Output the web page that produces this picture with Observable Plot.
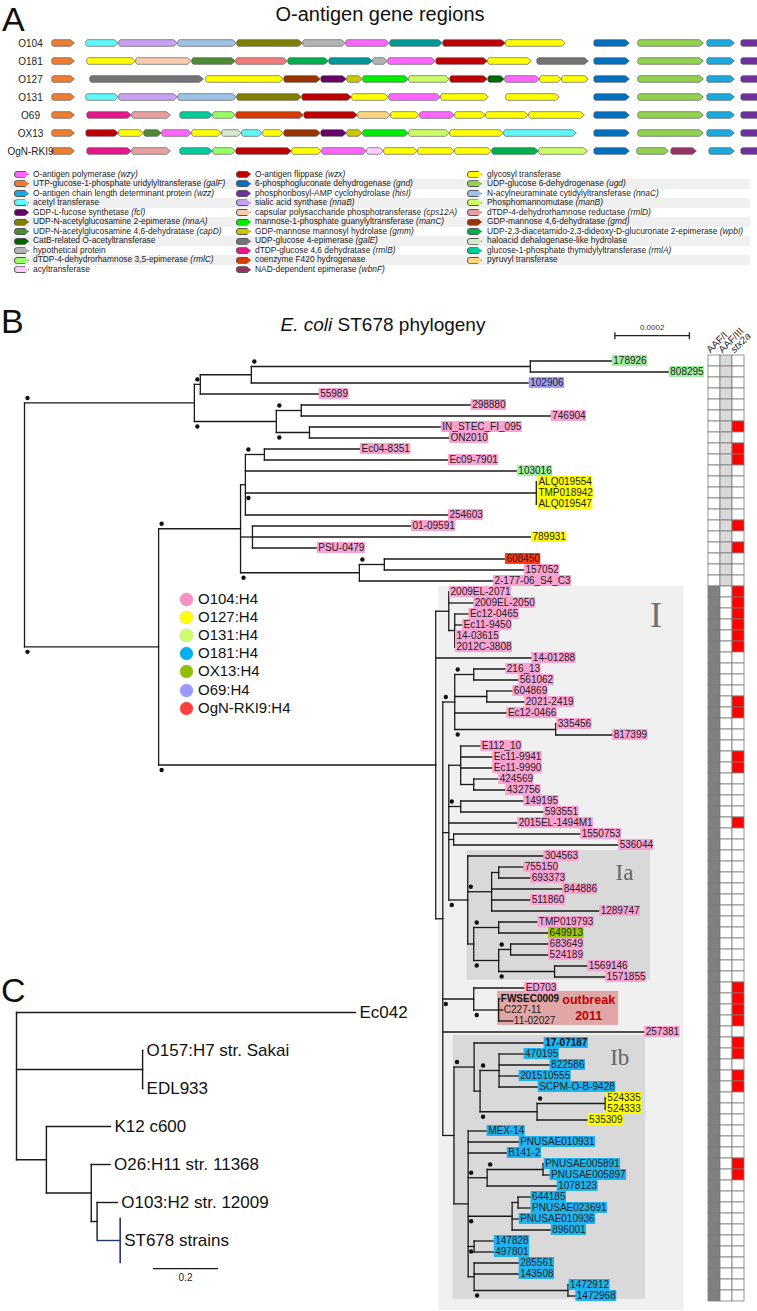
<!DOCTYPE html>
<html><head><meta charset="utf-8">
<script src="https://cdn.jsdelivr.net/npm/d3@7"></script>
<script src="https://cdn.jsdelivr.net/npm/@observablehq/plot@0.6"></script>
<style>
body{margin:0;background:#fff}
#page{position:relative;width:757px;height:1311px;overflow:hidden;background:#fff;font-family:"Liberation Sans",Arial,sans-serif;color:#111}
</style></head><body><div id="page"></div>
<script>
// ---------------- DATA ----------------
// Panel A: O-antigen gene regions, [gene, relative length] (null = gap)
const geneRowNames = ["O104","O181","O127","O131","O69","OX13","OgN-RKI9"];
const rowO104 = [["galF",23],[null,11],["acetyl",33],["nnaB",59],["nnaC",59],["nnaA",66],["hyp",43],["wzy",44],["teal",53],["wzx",63],["gt",60],[null,28],["gnd",36],[null,8],["ugd",66],[null,3],["wzz",28],[null,6],["hisI",22]];
const rowO181 = [["galF",23],[null,12],["gt",49],["cps12A",56],["capD",44],["salmon",52],["wpbI",41],["teal",44],["hyp",15],["wzy",48],["wzx",52],["gt",44],[null,5],["galE",52],[null,5],["gnd",36],[null,8],["ugd",66],[null,3],["wzz",28],[null,6],["hisI",22]];
const rowO127 = [["galF",23],[null,15],["galE",114],[null,2],["gt",78],["gmd",37],["fcl",26],["gmm",16],["manC",46],["manB",41],["wzx",38],["catB",17],["wzy",35],["gt",22],["gt",27],[null,5],["gnd",36],[null,8],["ugd",66],[null,3],["wzz",28],[null,6],["hisI",22]];
const rowO131 = [["galF",23],[null,11],["acetyl",33],["nnaB",59],["nnaC",59],["nnaA",65],["wzx",50],["gt",37],["wzy",52],["gt",48],[null,17],["gt",54],[null,34],["gnd",36],[null,8],["ugd",66],[null,3],["wzz",28],[null,6],["hisI",22]];
const rowO69 = [["galF",23],[null,12],["rmlB",45],["rmlD",39],[null,9],["rmlA",33],["rmlC",23],["f420",68],["wzx",54],["pyruvyl",33],["gt",29],["wzy",35],["gt",31],["gt",43],["gt",56],[null,9],["gnd",36],[null,8],["ugd",66],[null,3],["wzz",28],[null,6],["hisI",22]];
const rowOX13 = [["galF",23],[null,11],["wzx",33],["gt",25],["capD",18],["wzy",30],["gt",30],["had",20],["acetyl",21],["gt",21],["gmd",37],["fcl",26],["gmm",16],["manC",46],["manB",41],["gt",54],["acetyl",73],[null,17],["gnd",36],[null,8],["ugd",66],[null,3],["wzz",28],[null,6],["hisI",22]];
const rowOgN = [["galF",23],[null,12],["rmlB",45],["rmlD",39],[null,9],["rmlA",33],["rmlC",23],["wzx",56],["gt",30],["wzy",45],["acyl",17],["gt",34],["gt",37],["gt",37],["wpbI",47],["manB",49],[null,6],["gnd",36],[null,7],["ugd",32],[null,2],["wbnF",26],[null,12],["wzz",26],[null,6],["hisI",22]];
const geneRows = [rowO104,rowO181,rowO127,rowO131,rowO69,rowOX13,rowOgN];

// Panel A legend: [gene, description, italic gene name]
const legendCol1 = [["wzy","O-antigen polymerase","wzy"],["galF","UTP-glucose-1-phosphate uridylyltransferase","galF"],["wzz","O-antigen chain length determinant protein","wzz"],["acetyl","acetyl transferase",null],["fcl","GDP-L-fucose synthetase","fcl"],["nnaA","UDP-N-acetylglucosamine 2-epimerase","nnaA"],["capD","UDP-N-acetylglucosamine 4,6-dehydratase","capD"],["catB","CatB-related O-acetyltransferase",null],["hyp","hypothetical protein",null],["rmlC","dTDP-4-dehydrorhamnose 3,5-epimerase","rmlC"],["acyl","acyltransferase",null]];
const legendCol2 = [["wzx","O-antigen flippase","wzx"],["gnd","6-phosphogluconate dehydrogenase","gnd"],["hisI","phosphoribosyl-AMP cyclohydrolase","hisI"],["nnaB","sialic acid synthase","nnaB"],["cps12A","capsular polysaccharide phosphotransferase","cps12A"],["manC","mannose-1-phosphate guanylyltransferase","manC"],["gmm","GDP-mannose mannosyl hydrolase","gmm"],["galE","UDP-glucose 4-epimerase","galE"],["rmlB","dTDP-glucose 4,6 dehydratase","rmlB"],["f420","coenzyme F420 hydrogenase",null],["wbnF","NAD-dependent epimerase","wbnF"]];
const legendCol3 = [["gt","glycosyl transferase",null],["ugd","UDP-glucose 6-dehydrogenase","ugd"],["nnaC","N-acylneuraminate cytidylyltransferase","nnaC"],["manB","Phosphomannomutase","manB"],["rmlD","dTDP-4-dehydrorhamnose reductase","rmlD"],["gmd","GDP-mannose 4,6-dehydratase","gmd"],["wpbI","UDP-2,3-diacetamido-2,3-dideoxy-D-glucuronate 2-epimerase","wpbI"],["had","haloacid dehalogenase-like hydrolase",null],["rmlA","glucose-1-phosphate thymidylyltransferase","rmlA"],["pyruvyl","pyruvyl transferase",null]];

// Panel B: ST678 phylogeny (branch lengths in 1e-5 substitutions/site; "*" = supported node)
const treeNewick = [
 "(",
 "((((178926:22.0,808295:37.3)*:74.9,102906:74.6):13.7,55989:31.9)*:1.6,((298880:45.6,746904:67.1)*:6.7,(IN_STEC_FI_095:35.4,ON2010:37.6)*:8.9)*:22.0)*:45.6",
 ",(",
 "(((Ec04-8351:25.8,Ec09-7901:49.4)*:5.1,103016:73.0,(ALQ019554:0.3,TMP018942:0.3,ALQ019547:0.3)*:78.1,254603:54.5):1.3,(01-09591:42.7,789931:74.9,PSU-0479:17.4):3.2,((608450:32.5,157052:37.6)*:6.7,2-177-06_S4_C3:36.0)*:31.9)*:22.0",
 ",(",
 "(2009EL-2071:0.2,2009EL-2050:6.7,(Ec12-0465:3.8,Ec11-9450:2.1,14-03615:0.2,2012C-3808:0.2):1.6):3.5",
 ",14-01288:25.8,(",
 "((216_13:8.6,561062:12.1)*:5.1,(604869:7.0,2021-2419:10.2):8.6,Ec12-0466:14.0,(335456:0.3,817399:15.3)*:27.1)*:3.2",
 ",((E112_10:5.4,Ec11-9941:8.6,Ec11-9990:8.6,(424569:6.7,432756:8.6):3.5):3.2,(149195:16.9,593551:22.3)*:3.2,2015EL-1494M1:18.5,(1550753:34.1,536044:44.3):1.3,",
 "(304563:20.4,((755150:6.7,693373:8.6):1.9,844886:19.1,511860:10.5,1289747:29.0)*:6.4,((TMP019793:10.5,649913:13.4)*:6.7,((683649:10.2,524189:10.2)*:3.2,(1569146:8.9,1571855:13.7)*:15.0)*:6.7):1.6)*:5.1",
 "):1.6",
 ",(ED703:13.7,(FWSEC0009:0.3,C227-11:1.1,11-02027:3.8)*:6.7)*:8.3",
 ",257381:54.2",
 ",((17-07187:18.8,((470195:6.7,822586:13.7,201510555:5.4,SCPM-O-B-9428:10.5)*:5.1,((524335:0.3,524333:0.3)*:18.3,535309:13.7)*:15.3):1.6)*:5.4,(MEX-14:5.1,PNUSAE010931:13.7,B141-2:10.5,((PNUSAE005891:0.3,PNUSAE005897:1.9)*:15.0,1078123:18.8)*:5.1,((644185:3.5,PNUSAE023691:3.5):1.6,PNUSAE010936:1.9,896001:10.5)*:11.8,(147828:5.4,497801:5.4)*:1.6,(285561:12.1,143508:12.1,(1472912:0.3,1472968:2.1)*:25.2):1.6):3.8):3.0",
 "):1.9",
 ")*:74.4",
 ")*:36.0",
 ");"
].join("");
const treeScaleBar = 20; // 0.0002 in 1e-5 units
const treeScaleLabel = "0.0002";

// serotypes (all other strains are O104:H4)
const seroO131 = ["178926","808295","103016"];
const seroO69 = ["102906"];
const seroO127 = ["ALQ019554","TMP018942","ALQ019547","789931","524335","524333","535309"];
const seroOgN = ["608450"];
const seroOX13 = ["649913"];
const seroO181 = ["17-07187","470195","822586","201510555","SCPM-O-B-9428","MEX-14","PNUSAE010931","B141-2","PNUSAE005891","PNUSAE005897","1078123","644185","PNUSAE023691","PNUSAE010936","896001","147828","497801","285561","143508","1472912","1472968"];
const boldLabels = ["FWSEC0009","17-07187"];
const serotypeLegend = ["O104:H4","O127:H4","O131:H4","O181:H4","OX13:H4","O69:H4","OgN-RKI9:H4"];

// clades: [label, first leaf, last leaf]
const clades = [["I","2009EL-2071","1472968"],["Ia","304563","1571855"],["Ib","17-07187","1472968"]];
const outbreak = ["outbreak","2011","FWSEC0009","11-02027"];

// heatmap columns (rows in tree leaf order, 1 = present)
const heatCols = ["AAF/I","AAF/III","stx2a"];
const aafI   = "0000000000 0000000000 0111111111 1111111111 1111111111 1111111111 1111111111 1111111111 111111";
const aafIII = "1111111111 1111111111 1000000000 0000000000 0000000000 0000000000 0000000000 0000000000 000000";
const stx2a  = "0000001011 0000010100 0111111000 0110001100 0010000000 0000000111 1011011000 0001100000 000000";

// Panel C: reference tree (branch lengths in substitutions/site)
const refTree = {name:"", len:0, children:[
  {name:"Ec042", len:1.043, children:[]},
  {name:"", len:0.388, children:[{name:"O157:H7 str. Sakai", len:0, children:[]},{name:"EDL933", len:0, children:[]}]},
  {name:"", len:0.092, children:[
    {name:"K12 c600", len:0.197, children:[]},
    {name:"", len:0.138, children:[
      {name:"O26:H11 str. 11368", len:0.058, children:[]},
      {name:"", len:0.018, children:[{name:"O103:H2 str. 12009", len:0.062, children:[]},{name:"ST678 strains", len:0.071, children:[]}]}
    ]}
  ]}
]};
const refScaleBar = 0.2;

// ---------------- STYLES ----------------
const FONT = "'Liberation Sans', Arial, sans-serif";
const geneColors = {
 wzy:"#ff66ff", galF:"#ed7d31", wzz:"#1ba9de", acetyl:"#5ff7f7", fcl:"#660066", nnaA:"#808000", capD:"#4f8a34", catB:"#006600", hyp:"#b3b3b3", rmlC:"#99ff66", acyl:"#ffccff",
 wzx:"#c00000", gnd:"#0070c0", hisI:"#7030a0", nnaB:"#c9a0f2", cps12A:"#f8cbad", manC:"#00ee00", gmm:"#c8c800", galE:"#747474", rmlB:"#e6168c", f420:"#d83b01", wbnF:"#993366",
 gt:"#ffff00", ugd:"#92d050", nnaC:"#9dc3e6", manB:"#ccff66", rmlD:"#e6a0a0", gmd:"#993300", wpbI:"#00b050", had:"#d5e8cc", rmlA:"#00cc99", pyruvyl:"#ffd580",
 teal:"#009999", salmon:"#f27c7c"
};
const seroBg = {O104:"#f9a3d2", O181:"#1eb4f0", O127:"#ffff00", O131:"#9ff19f", O69:"#9f9ff5", OgN:"#ff3a10", OX13:"#9acd00"};
const seroDot = ["#f792c9","#ffff00","#ccff66","#00b0f0","#92c000","#9999ff","#ff4040"];

const page = document.getElementById("page");
function addDiv(html, css){const d=document.createElement("div");d.innerHTML=html;d.style.cssText="position:absolute;"+css;page.appendChild(d);return d;}
function place(el,left,top,w,h){const d=document.createElement("div");d.style.cssText=`position:absolute;left:${left}px;top:${top}px;width:${w}px;height:${h}px`;d.appendChild(el);page.appendChild(d);}
const plotStyle = {background:"transparent", maxWidth:"none", fontFamily:FONT};
const ctx = document.createElement("canvas").getContext("2d");
function textW(t,font){ctx.font=font;return ctx.measureText(t).width;}

// ---------------- PANEL A ----------------
addDiv("A","left:2px;top:1px;font-size:34px;line-height:36px");
addDiv("O-antigen gene regions","left:0;width:760px;text-align:center;top:4px;font-size:20px;line-height:20px");
{
  const pts=[]; let id=0; const h=0.185, e=0.07;
  geneRows.forEach((row,r)=>{
    let pos=0;
    for(const [g,len] of row){
      if(g){
        id++; const x0=pos, x1=pos+len-0.6, tip=Math.min(4,len*0.35), col=geneColors[g];
        pts.push({id,x:x0,y1:r-h+e,y2:r+h-e,c:col},{id,x:x0+1.3,y1:r-h,y2:r+h,c:col},{id,x:x1-tip,y1:r-h,y2:r+h,c:col},{id,x:x1,y1:r,y2:r,c:col});
      }
      pos+=len;
    }
  });
  const p = Plot.plot({width:757,height:165,marginLeft:52,marginTop:0,marginBottom:0,marginRight:0,
    x:{domain:[0,705],range:[52,757],axis:null}, y:{domain:[0,6],range:[43,151],axis:null},
    color:{type:"identity"}, style:plotStyle,
    marks:[
      Plot.areaY(pts,{x:"x",y1:"y1",y2:"y2",z:"id",fill:"c",stroke:"#4d4d4d",strokeWidth:0.6}),
      Plot.text(geneRowNames,{y:(d,i)=>i,text:d=>d,frameAnchor:"left",dx:-22,textAnchor:"middle",fontSize:10,fill:"#222"})
    ]});
  place(p,0,0,757,165);
}
{
  const cols=[legendCol1,legendCol2,legendCol3], swX=[14,236,467], txX=[33,255,487];
  const top0=169.5, rh=9.55;
  for(let i=0;i<11;i++) if(i%2===1) addDiv("",`left:10px;top:${top0+i*rh}px;width:740px;height:${rh}px;background:#f0f0f0`);
  cols.forEach((col,c)=>col.forEach(([g,desc,it],i)=>{
    const t=top0+i*rh;
    addDiv("",`left:${swX[c]}px;top:${t+1.3}px;width:15px;height:7px;background:${geneColors[g]};border:0.7px solid #555;box-sizing:border-box;border-radius:3px 0 0 3px;clip-path:polygon(0 0,72% 0,100% 50%,72% 100%,0 100%)`);
    addDiv(desc+(it?` <i>(${it})</i>`:""),`left:${txX[c]}px;top:${t}px;font-size:8.4px;line-height:${rh}px;white-space:nowrap;color:#222`);
  }));
}

// ---------------- PANEL B ----------------
addDiv("B","left:1px;top:303px;font-size:34px;line-height:36px");
addDiv("<i>E. coli</i> ST678 phylogeny","left:0;width:766px;text-align:center;top:315px;font-size:19px;line-height:19px");

function parseNewick(s){
  let i=0;
  function node(){
    const n={children:[]};
    if(s[i]==="("){i++;n.children.push(node());while(s[i]===","){i++;n.children.push(node());}i++;}
    let name="";while(i<s.length&&!":,();".includes(s[i]))name+=s[i++];
    n.name=name.trim();
    if(s[i]===":"){i++;let num="";while(i<s.length&&!",();".includes(s[i]))num+=s[i++];n.len=+num;}else n.len=0;
    return n;
  }
  return node();
}
function layoutTree(root){
  const leaves=[],hSegs=[],vSegs=[],nodes=[];let k=0;
  (function walk(n,parent){
    n.parent=parent; n.x=(parent?parent.x:0)+(n.len||0); nodes.push(n);
    if(!n.children.length){n.y=k++;leaves.push(n);}
    else{n.children.forEach(c=>walk(c,n));n.y=(n.children[0].y+n.children[n.children.length-1].y)/2;
      vSegs.push({x:n.x,y1:n.children[0].y,y2:n.children[n.children.length-1].y});}
  })(root,null);
  for(const n of nodes) if(n.parent) hSegs.push({x1:n.parent.x,x2:n.x,y:n.y,name:n.name});
  return {leaves,hSegs,vSegs,nodes};
}
const tree = layoutTree(parseNewick(treeNewick));
const leafNames = tree.leaves.map(d=>d.name);
const leafByName = new Map(tree.leaves.map(d=>[d.name,d]));
function lca(a,b){const anc=new Set();for(let n=leafByName.get(a);n;n=n.parent)anc.add(n);for(let n=leafByName.get(b);n;n=n.parent)if(anc.has(n))return n;}
function sero(name){
  if(seroO131.includes(name))return "O131"; if(seroO69.includes(name))return "O69"; if(seroO127.includes(name))return "O127";
  if(seroOgN.includes(name))return "OgN"; if(seroOX13.includes(name))return "OX13"; if(seroO181.includes(name))return "O181"; return "O104";
}
{
  const K=3.725, X0=24, TOP=280, Y0=360.5-TOP, RH=11;
  const font=b=>`${b?"bold ":""}10px ${FONT}`;
  const labels = tree.leaves.map(l=>{const b=boldLabels.includes(l.name);const w=textW(l.name,font(b));
    return {name:l.name,x:l.x,y:l.y,x2:l.x+(w+2)/K,bold:b,bg:seroBg[sero(l.name)]};});
  const labByName = new Map(labels.map(d=>[d.name,d]));
  const boxes = clades.map(([lab,f,l])=>{
    const a=labByName.get(f).y, b=labByName.get(l).y, node=lca(f,l);
    const members=labels.filter(d=>d.y>=a&&d.y<=b);
    return {lab, x1:node.x+(lab==="I"?0.8:-0.2), x2:d3.max(members,d=>d.x2)+4/K, y1:a-0.5-(lab==="Ib"?0.2:0), y2:b+0.5+(lab==="I"?0.8:-0.2)};
  });
  const ob = (()=>{const a=labByName.get(outbreak[2]).y,b=labByName.get(outbreak[3]).y,node=lca(outbreak[2],outbreak[3]);
    const x1=node.x-1/K; return {x1,x2:x1+121/K,y1:a-0.7,y2:b+0.4};})();
  const bgLabels = labels.filter(d=>!(d.y>=ob.y1&&d.y<=ob.y2));
  const dots = tree.nodes.filter(n=>n.name==="*"&&n.parent).map(n=>({x:n.parent.x,y:n.y,up:n.y<n.parent.y}));
  const sbX=158.5, sbY=-2.3;
  const p = Plot.plot({width:757,height:1031,margin:0,
    x:{domain:[0,180],range:[X0,X0+180*K],axis:null}, y:{domain:[0,85],range:[Y0,Y0+85*RH],axis:null},
    color:{type:"identity"}, style:plotStyle,
    marks:[
      Plot.rect(boxes.filter(d=>d.lab==="I"),{x1:"x1",x2:"x2",y1:"y1",y2:"y2",fill:"#f0f0f0"}),
      Plot.rect(boxes.filter(d=>d.lab!=="I"),{x1:"x1",x2:"x2",y1:"y1",y2:"y2",fill:"#d9d9d9"}),
      Plot.rect([ob],{x1:"x1",x2:"x2",y1:"y1",y2:"y2",fill:"#e1a7a7"}),
      Plot.link(tree.hSegs,{x1:"x1",x2:"x2",y1:"y",y2:"y",stroke:"#1a1a1a",strokeWidth:1.3,strokeLinecap:"square"}),
      Plot.link(tree.vSegs,{x1:"x",x2:"x",y1:"y1",y2:"y2",stroke:"#1a1a1a",strokeWidth:1.3,strokeLinecap:"square"}),
      Plot.rect(bgLabels,{x1:"x",x2:"x2",y1:d=>d.y-0.5,y2:d=>d.y+0.5,fill:"bg"}),
      Plot.text(labels.filter(d=>!d.bold),{x:"x",y:"y",text:"name",textAnchor:"start",dx:1,fontSize:10,fill:"#222"}),
      Plot.text(labels.filter(d=>d.bold),{x:"x",y:"y",text:"name",textAnchor:"start",dx:1,fontSize:10,fontWeight:"bold",fill:"#111"}),
      Plot.dot(dots.filter(d=>d.up),{x:"x",y:"y",dx:3,dy:-5,r:2.2,fill:"#111"}),
      Plot.dot(dots.filter(d=>!d.up),{x:"x",y:"y",dx:3,dy:5,r:2.2,fill:"#111"}),
      Plot.text(boxes.filter(d=>d.lab==="I"),{x:"x2",y:"y1",text:"lab",dx:-28,dy:29,fontSize:36,fontFamily:"'Liberation Serif', 'DejaVu Serif', serif",fill:"#707070"}),
      Plot.text(boxes.filter(d=>d.lab!=="I"),{x:"x2",y:"y1",text:"lab",dx:-26,dy:22,fontSize:23,fontFamily:"'Liberation Serif', 'DejaVu Serif', serif",fill:"#666"}),
      Plot.text([ob],{x:"x2",y:d=>(d.y1+d.y2)/2,text:()=>outbreak[0],dx:-30,dy:-8,fontSize:12.5,fontWeight:"bold",fill:"#c00000"}),
      Plot.text([ob],{x:"x2",y:d=>(d.y1+d.y2)/2,text:()=>outbreak[1],dx:-30,dy:8,fontSize:12.5,fontWeight:"bold",fill:"#c00000"}),
      Plot.link([{a:sbX,b:sbX+treeScaleBar,y:sbY}],{x1:"a",x2:"b",y1:"y",y2:"y",stroke:"#222",strokeWidth:1.3}),
      Plot.link([sbX,sbX+treeScaleBar],{x1:d=>d,x2:d=>d,y1:sbY-0.32,y2:sbY+0.32,stroke:"#222",strokeWidth:1.3}),
      Plot.text([treeScaleLabel],{x:sbX+treeScaleBar/2,y:sbY-0.75,text:d=>d,fontSize:8,fill:"#333"})
    ]});
  place(p,0,TOP,757,1031);

  // heatmap
  const colsStr=[aafI,aafIII,stx2a].map(s=>s.replace(/ /g,""));
  const posFill=["#808080","#d9d9d9","#ff0000"];
  const cells=[];
  leafNames.forEach((n,i)=>heatCols.forEach((c,j)=>cells.push({leaf:n,col:c,fill:colsStr[j][i]==="1"?posFill[j]:"#ffffff"})));
  const hm = Plot.plot({width:67,height:1031,marginTop:75,marginBottom:10,marginLeft:17,marginRight:12,
    x:{domain:heatCols,padding:0,axis:null}, y:{domain:leafNames,padding:0,axis:null},
    color:{type:"identity"}, style:plotStyle,
    marks:[
      Plot.cell(cells,{x:"col",y:"leaf",fill:"fill",stroke:"#7a7a7a",strokeWidth:0.8,inset:0}),
      Plot.text(heatCols.slice(0,2),{x:d=>d,text:d=>d,frameAnchor:"top",rotate:-45,textAnchor:"start",lineAnchor:"bottom",dx:-4,dy:-2,fontSize:10,fill:"#222"}),
      Plot.text(heatCols.slice(2),{x:d=>d,text:d=>d,frameAnchor:"top",rotate:-45,textAnchor:"start",lineAnchor:"bottom",dx:-4,dy:-2,fontSize:10,fontStyle:"italic",fill:"#222"})
    ]});
  place(hm,690,TOP,67,1031);
}
// serotype legend
serotypeLegend.forEach((s,i)=>{
  const yc=599+i*18.2;
  addDiv("",`left:179.5px;top:${yc-6.5}px;width:13px;height:13px;border-radius:50%;background:${seroDot[i]};box-shadow:0 0 0 0.5px rgba(0,0,0,0.15)`);
  addDiv(s,`left:198px;top:${yc-9.5}px;font-size:15px;line-height:18px;white-space:nowrap;color:#111`);
});

// ---------------- PANEL C ----------------
addDiv("C","left:1px;top:972px;font-size:34px;line-height:36px");
{
  const t = layoutTree(refTree);
  const K=325, TOP=990;
  const st = t.leaves.find(d=>d.name==="ST678 strains");
  const p = Plot.plot({width:420,height:321,margin:0,
    x:{domain:[0,1.2],range:[16,16+1.2*K],axis:null}, y:{domain:[0,6],range:[22,250],axis:null}, style:plotStyle,
    marks:[
      Plot.link(t.hSegs.filter(d=>d.name!=="ST678 strains"),{x1:"x1",x2:"x2",y1:"y",y2:"y",stroke:"#1a1a1a",strokeWidth:1.4,strokeLinecap:"square"}),
      Plot.link(t.vSegs,{x1:"x",x2:"x",y1:"y1",y2:"y2",stroke:"#1a1a1a",strokeWidth:1.4,strokeLinecap:"square"}),
      Plot.link(t.hSegs.filter(d=>d.name==="ST678 strains"),{x1:"x1",x2:"x2",y1:"y",y2:"y",stroke:"#27376e",strokeWidth:1.4}),
      Plot.link([st],{x1:"x",x2:"x",y1:d=>d.y-0.6,y2:d=>d.y+0.6,stroke:"#27376e",strokeWidth:1.6}),
      Plot.text(t.leaves,{x:"x",y:"y",text:"name",textAnchor:"start",dx:4,fontSize:17,fill:"#111"}),
      Plot.link([{a:0.42,b:0.42+refScaleBar}],{x1:"a",x2:"b",y1:6.74,y2:6.74,stroke:"#1a1a1a",strokeWidth:1.3}),
      Plot.text([String(refScaleBar)],{x:0.42+refScaleBar/2,y:6.97,text:d=>d,fontSize:10,fill:"#222"})
    ]});
  place(p,0,TOP,420,321);
}
</script></body></html>
